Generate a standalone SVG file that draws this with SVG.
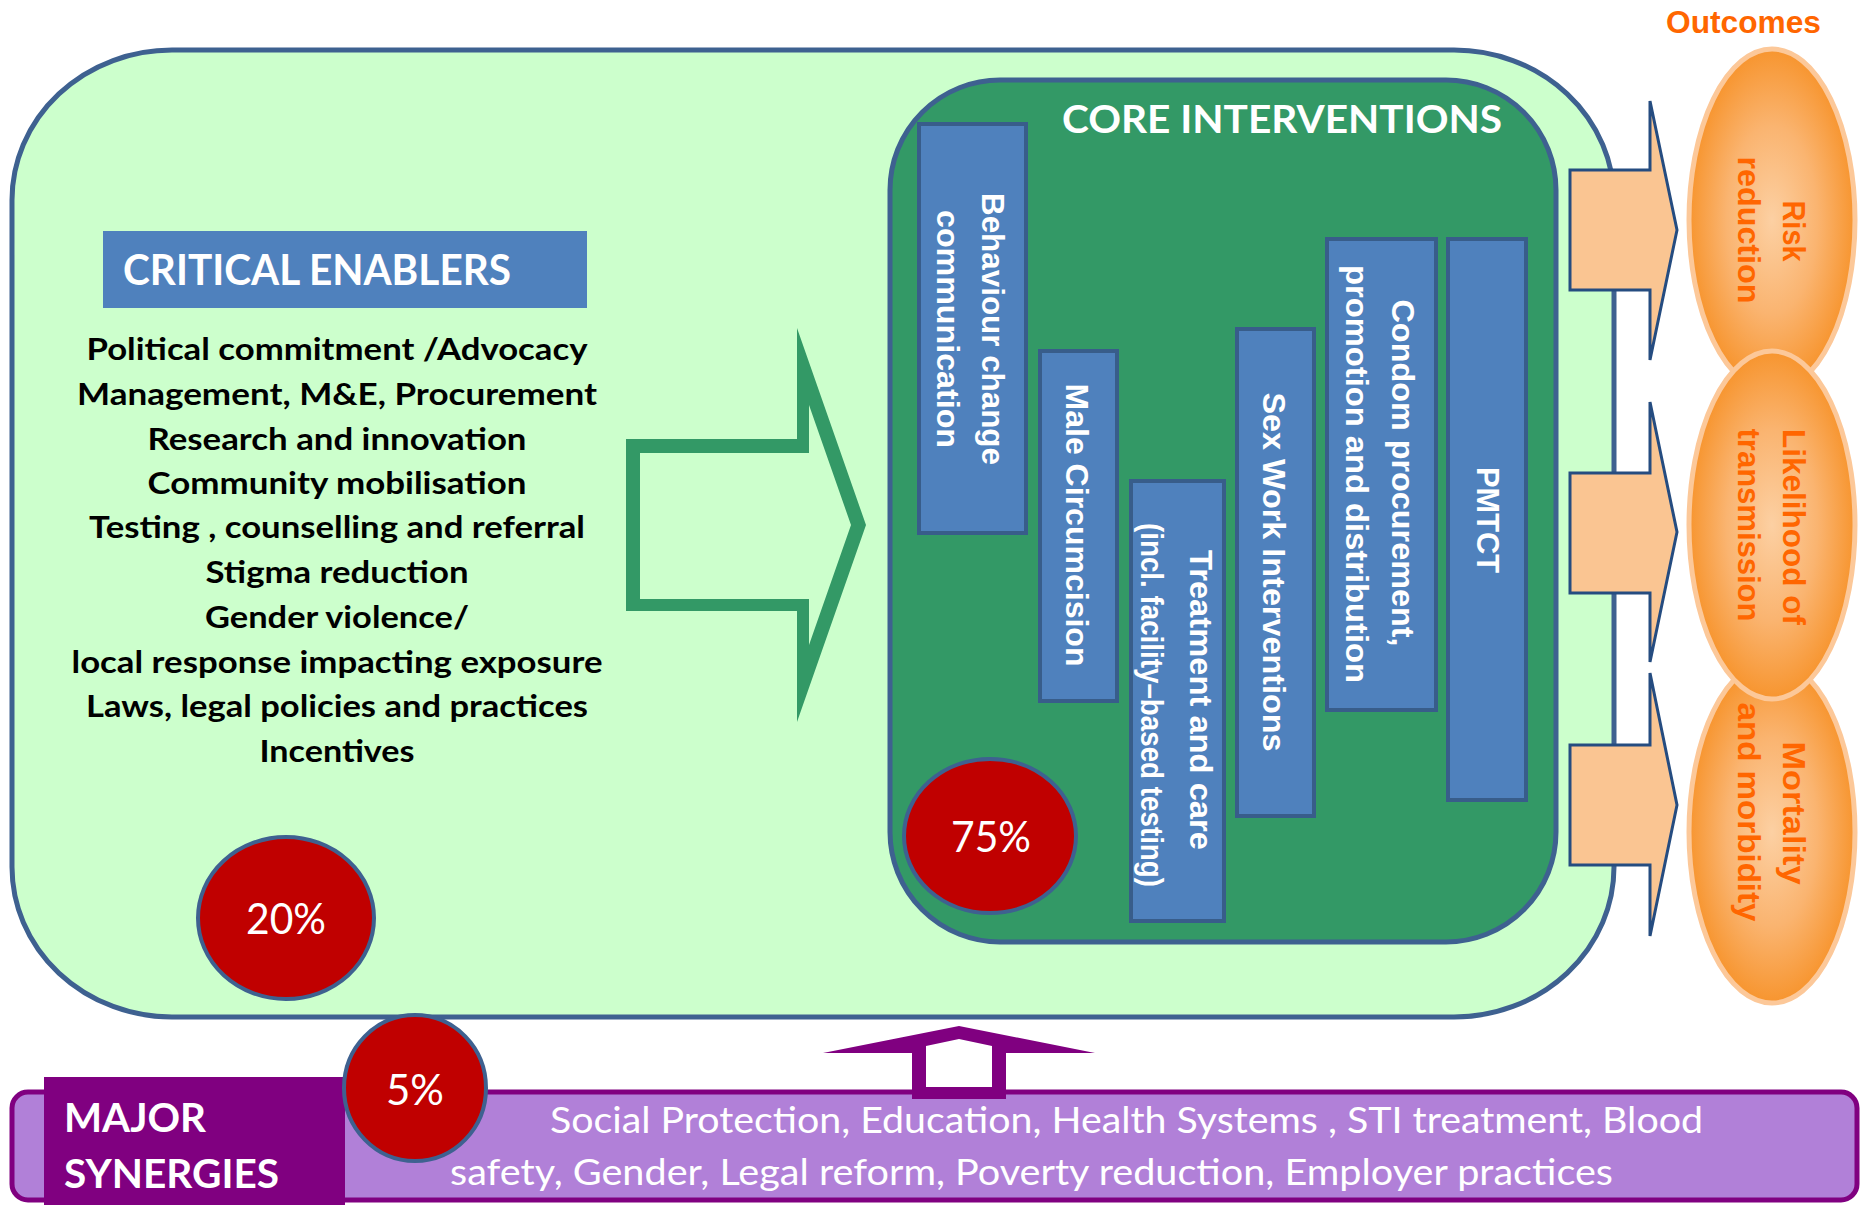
<svg xmlns="http://www.w3.org/2000/svg" width="1865" height="1205" viewBox="0 0 1865 1205">
<defs>
<radialGradient id="og" cx="50%" cy="50%" r="50%">
<stop offset="0" stop-color="#FCD0A3"/>
<stop offset="0.55" stop-color="#FAB470"/>
<stop offset="1" stop-color="#F7952F"/>
</radialGradient>
<style>
.cal{font-family:Lato,"Open Sans","Liberation Sans",sans-serif}
.ari{font-family:"Liberation Sans",Arial,sans-serif;font-weight:bold}
.enab{font-weight:bold;font-size:31px;fill:#000;text-anchor:middle}
.bar{fill:#4F81BD;stroke:#385D8A;stroke-width:4}
.bt{fill:#fff;font-size:31px;text-anchor:middle}
.ot{fill:#FF6600;font-size:32px;text-anchor:middle}
.red{fill:#C00000;stroke:#3E6190;stroke-width:4}
.pct{fill:#fff;font-size:42px;text-anchor:middle}
.oarr{fill:#FAC592;stroke:#254C80;stroke-width:3}
.oell{fill:url(#og);stroke:#FCC899;stroke-width:5}
</style>
</defs>
<rect width="1865" height="1205" fill="#fff"/>

<g id="enablers-panel">
<rect x="12" y="50" width="1602" height="967" rx="160" ry="150" fill="#CCFFCC" stroke="#3E6190" stroke-width="5"/>
</g>

<g id="critical-enablers">
<rect x="103" y="231" width="484" height="77" fill="#4F81BD"/>
<text class="cal" x="123" y="285" font-size="42" font-weight="bold" fill="#fff" textLength="388" lengthAdjust="spacingAndGlyphs">CRITICAL ENABLERS</text>
<g class="cal enab">
<text x="337" y="360" textLength="501" lengthAdjust="spacingAndGlyphs">Political commitment /Advocacy</text>
<text x="337" y="405" textLength="520" lengthAdjust="spacingAndGlyphs">Management, M&amp;E, Procurement</text>
<text x="337" y="450" textLength="379" lengthAdjust="spacingAndGlyphs">Research and innovation</text>
<text x="337" y="494" textLength="379" lengthAdjust="spacingAndGlyphs">Community mobilisation</text>
<text x="337" y="538" textLength="496" lengthAdjust="spacingAndGlyphs">Testing , counselling and referral</text>
<text x="337" y="583" textLength="263" lengthAdjust="spacingAndGlyphs">Stigma reduction</text>
<text x="337" y="628" textLength="264" lengthAdjust="spacingAndGlyphs">Gender violence/</text>
<text x="337" y="673" textLength="531" lengthAdjust="spacingAndGlyphs">local response impacting exposure</text>
<text x="337" y="717" textLength="502" lengthAdjust="spacingAndGlyphs">Laws, legal policies and practices</text>
<text x="337" y="762" textLength="155" lengthAdjust="spacingAndGlyphs">Incentives</text>
</g>
</g>

<g id="pct-20">
<ellipse class="red" cx="286" cy="918" rx="88" ry="81"/>
<text class="cal pct" x="286" y="934" textLength="80" lengthAdjust="spacingAndGlyphs">20%</text>
</g>

<g id="core-interventions">
<rect x="890" y="80" width="666" height="862" rx="110" ry="110" fill="#339966" stroke="#3E6190" stroke-width="5"/>
<text class="cal" x="1062" y="133" font-size="39" font-weight="bold" fill="#fff" textLength="440" lengthAdjust="spacingAndGlyphs">CORE INTERVENTIONS</text>
</g>

<g id="bar-bcc">
<rect class="bar" x="919" y="124" width="107" height="409"/>
<text class="ari bt" transform="translate(982,329) rotate(90)" textLength="272" lengthAdjust="spacingAndGlyphs">Behaviour change</text>
<text class="ari bt" transform="translate(937,329) rotate(90)" textLength="238" lengthAdjust="spacingAndGlyphs">communication</text>
</g>
<g id="bar-mc">
<rect class="bar" x="1040" y="351" width="77" height="350"/>
<text class="ari bt" transform="translate(1066,525) rotate(90)" textLength="283" lengthAdjust="spacingAndGlyphs">Male Circumcision</text>
</g>
<g id="bar-treatment">
<rect class="bar" x="1131" y="481" width="93" height="440"/>
<text class="ari bt" transform="translate(1190,700) rotate(90)" textLength="300" lengthAdjust="spacingAndGlyphs">Treatment and care</text>
<text class="ari bt" transform="translate(1141,705) rotate(90)" textLength="364" lengthAdjust="spacingAndGlyphs">(incl. facility–based testing)</text>
</g>
<g id="bar-sexwork">
<rect class="bar" x="1237" y="329" width="77" height="487"/>
<text class="ari bt" transform="translate(1263,572) rotate(90)" textLength="359" lengthAdjust="spacingAndGlyphs">Sex Work Interventions</text>
</g>
<g id="bar-condom">
<rect class="bar" x="1327" y="239" width="109" height="471"/>
<text class="ari bt" transform="translate(1392,473) rotate(90)" textLength="347" lengthAdjust="spacingAndGlyphs">Condom procurement,</text>
<text class="ari bt" transform="translate(1346,474) rotate(90)" textLength="418" lengthAdjust="spacingAndGlyphs">promotion and distribution</text>
</g>
<g id="bar-pmtct">
<rect class="bar" x="1448" y="239" width="78" height="561"/>
<text class="ari bt" transform="translate(1477,520) rotate(90)" textLength="106" lengthAdjust="spacingAndGlyphs">PMTCT</text>
</g>

<g id="pct-75">
<ellipse class="red" cx="990" cy="836" rx="86" ry="77"/>
<text class="cal pct" x="991" y="852" textLength="80" lengthAdjust="spacingAndGlyphs">75%</text>
</g>

<g id="connectors">
<path d="M626,439 L797,439 L797,328 L866,525 L797,722 L797,611 L626,611 Z M640,453 L809,453 L809,405 L851,525 L809,645 L809,599 L640,599 Z" fill="#339966" fill-rule="evenodd"/>
<polygon class="oarr" points="1570,170 1650,170 1650,101 1677,230 1650,360 1650,290 1570,290"/>
<polygon class="oarr" points="1570,473 1650,473 1650,402 1677,532 1650,662 1650,593 1570,593"/>
<polygon class="oarr" points="1570,745 1650,745 1650,673 1677,805 1650,936 1650,865 1570,865"/>
</g>

<g id="outcome-risk">
<ellipse class="oell" cx="1772" cy="220" rx="83" ry="171"/>
<text class="ari ot" transform="translate(1783,231) rotate(90)" textLength="61" lengthAdjust="spacingAndGlyphs">Risk</text>
<text class="ari ot" transform="translate(1738,230) rotate(90)" textLength="147" lengthAdjust="spacingAndGlyphs">reduction</text>
</g>
<g id="outcome-mortality">
<ellipse class="oell" cx="1772" cy="832" rx="83" ry="171"/>
<text class="ari ot" transform="translate(1783,813) rotate(90)" textLength="143" lengthAdjust="spacingAndGlyphs">Mortality</text>
<text class="ari ot" transform="translate(1738,812) rotate(90)" textLength="219" lengthAdjust="spacingAndGlyphs">and morbidity</text>
</g>
<g id="outcome-transmission">
<ellipse class="oell" cx="1772" cy="525" rx="83" ry="174"/>
<text class="ari ot" transform="translate(1783,527) rotate(90)" textLength="196" lengthAdjust="spacingAndGlyphs">Likelihood of</text>
<text class="ari ot" transform="translate(1738,525) rotate(90)" textLength="193" lengthAdjust="spacingAndGlyphs">transmission</text>
</g>
<g id="outcomes-label">
<text class="ari" x="1666" y="33" font-size="32" fill="#FF6600" textLength="155" lengthAdjust="spacingAndGlyphs">Outcomes</text>
</g>

<g id="major-synergies">
<rect x="12" y="1092" width="1845" height="108" rx="16" ry="16" fill="#B180D8" stroke="#800080" stroke-width="5"/>
<rect x="44" y="1077" width="301" height="128" fill="#800080"/>
<text class="cal" x="64" y="1132" font-size="40" font-weight="bold" fill="#fff" textLength="142" lengthAdjust="spacingAndGlyphs">MAJOR</text>
<text class="cal" x="64" y="1188" font-size="40" font-weight="bold" fill="#fff" textLength="215" lengthAdjust="spacingAndGlyphs">SYNERGIES</text>
<text class="cal" x="550" y="1133" font-size="36" fill="#fff" textLength="1153" lengthAdjust="spacingAndGlyphs">Social Protection, Education, Health Systems , STI treatment, Blood</text>
<text class="cal" x="450" y="1185" font-size="36" fill="#fff" textLength="1163" lengthAdjust="spacingAndGlyphs">safety, Gender, Legal reform, Poverty reduction, Employer practices</text>
</g>

<g id="synergy-arrow">
<path d="M912,1099 L912,1053 L823,1053 L959,1026 L1095,1053 L1006,1053 L1006,1099 Z M926,1087 L926,1046 L959,1039 L992,1046 L992,1087 Z" fill="#800080" fill-rule="evenodd"/>
</g>

<g id="pct-5">
<ellipse class="red" cx="415" cy="1088" rx="71" ry="73"/>
<text class="cal pct" x="415" y="1105" textLength="58" lengthAdjust="spacingAndGlyphs">5%</text>
</g>
</svg>
